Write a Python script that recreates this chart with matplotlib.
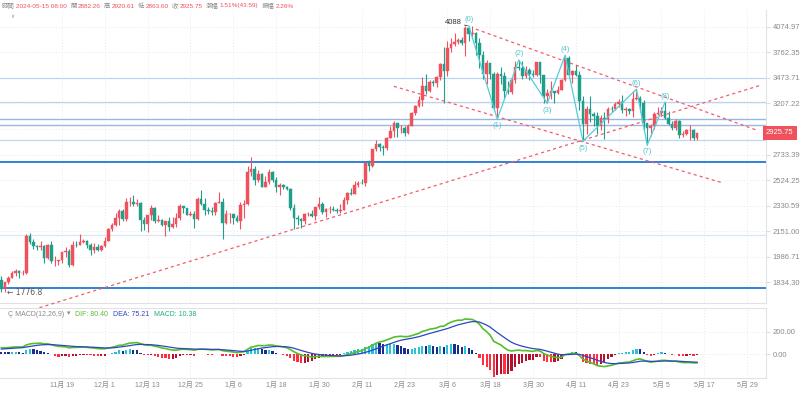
import numpy as np
import pandas as pd
import matplotlib
matplotlib.use("Agg")
import matplotlib.pyplot as plt
import matplotlib.dates as mdates
from matplotlib.ticker import NullLocator
from matplotlib.transforms import blended_transform_factory

plt.rcParams['font.family'] = ['Liberation Sans', 'Noto Sans CJK TC', 'DejaVu Sans']

# daily candles 2023-11-02 .. 2024-05-15 (last bar still running)
first_day = "2023-11-02"
first_open = 1846.0
last_open = 2882.26
closes = [
    # Nov
    1796, 1832, 1859, 1888, 1899, 1886, 1888, 2120, 2077, 2053, 2045, 2054, 1980, 2058, 1960,
    1961, 1963, 2013, 2022, 1932, 2063, 2062, 2081, 2084, 2063, 2027, 2049, 2030, 2052,
    # Dec
    2088, 2166, 2193, 2243, 2293, 2232, 2358, 2359, 2344, 2352, 2224, 2203, 2260, 2316, 2220, 2228,
    2196, 2218, 2177, 2201, 2239, 2326, 2311, 2266, 2273, 2231, 2379, 2345, 2300, 2293, 2281,
    # Jan
    2352, 2355, 2210, 2268, 2269, 2241, 2222, 2331, 2345, 2585, 2616, 2524, 2576, 2472, 2511, 2587,
    2528, 2467, 2489, 2470, 2456, 2312, 2242, 2236, 2218, 2267, 2267, 2257, 2317, 2343, 2283,
    # Feb
    2304, 2309, 2297, 2290, 2300, 2373, 2424, 2420, 2487, 2503, 2500, 2660, 2640, 2778, 2824, 2803,
    2786, 2882, 2944, 3015, 2967, 2971, 2922, 2993, 3112, 3179, 3243, 3385, 3340,
    # Mar
    3433, 3421, 3487, 3629, 3553, 3817, 3868, 3885, 3912, 3878, 4066, 3983, 4004, 3881, 3737, 3521,
    3644, 3518, 3159, 3516, 3492, 3336, 3329, 3454, 3591, 3587, 3500, 3561, 3512, 3508, 3647,
    # Apr
    3505, 3281, 3312, 3331, 3319, 3350, 3455, 3700, 3505, 3545, 3504, 3236, 3006, 3157, 3101, 3084,
    2985, 3066, 3056, 3155, 3148, 3201, 3220, 3139, 3156, 3131, 3255, 3264, 3216, 3014,
    # May
    2969, 2988, 3103, 3117, 3137, 3064, 3005, 2974, 3036, 2910, 2912, 2949, 2951, 2881, 2925.75,
]
highs = [
    1867, 1835, 1867, 1900, 1910, 1905, 1903, 2135, 2137, 2096, 2063, 2083, 2060, 2069, 2088,
    1988, 1968, 2017, 2050, 2035, 2087, 2089, 2133, 2096, 2092, 2071, 2073, 2068, 2058,
    2111, 2169, 2210, 2275, 2307, 2305, 2385, 2392, 2405, 2380, 2355, 2245, 2265, 2332, 2320, 2260,
    2235, 2220, 2250, 2250, 2275, 2340, 2330, 2315, 2292, 2290, 2390, 2445, 2385, 2320, 2320,
    2355, 2430, 2385, 2295, 2280, 2272, 2260, 2360, 2370, 2640, 2717, 2635, 2605, 2580, 2555, 2610,
    2595, 2550, 2500, 2495, 2477, 2465, 2345, 2265, 2240, 2275, 2285, 2300, 2320, 2390, 2355,
    2310, 2325, 2330, 2310, 2345, 2390, 2435, 2460, 2520, 2515, 2535, 2665, 2685, 2785, 2865, 2830,
    2815, 2890, 2985, 3032, 3015, 3000, 2985, 3010, 3120, 3190, 3285, 3485, 3520,
    3450, 3450, 3495, 3640, 3825, 3900, 3940, 3995, 3935, 3950, 4085, 4088, 4085, 4010, 3940, 3780,
    3680, 3645, 3540, 3535, 3590, 3540, 3440, 3470, 3665, 3675, 3660, 3610, 3580, 3565, 3655,
    3650, 3505, 3360, 3440, 3340, 3390, 3460, 3730, 3725, 3560, 3620, 3555, 3285, 3180, 3280, 3125,
    3125, 3095, 3125, 3170, 3180, 3220, 3250, 3290, 3170, 3165, 3330, 3355, 3280, 3240,
    3020, 3010, 3125, 3170, 3170, 3220, 3130, 3035, 3060, 3050, 2940, 2960, 2995, 2960, 2920.61,
]
lows = [
    1780, 1776.8, 1823, 1855, 1872, 1855, 1873, 1880, 2065, 2037, 2027, 2028, 1950, 1972, 1945,
    1930, 1935, 1950, 1985, 1922, 1928, 2050, 2058, 2075, 2042, 1995, 2010, 2024, 2022,
    2046, 2083, 2152, 2186, 2195, 2220, 2222, 2330, 2330, 2330, 2155, 2160, 2145, 2225, 2208, 2212,
    2185, 2120, 2150, 2170, 2180, 2230, 2280, 2260, 2255, 2175, 2225, 2335, 2265, 2270, 2265,
    2265, 2350, 2100, 2200, 2210, 2200, 2215, 2165, 2240, 2335, 2555, 2485, 2510, 2470, 2470, 2495,
    2505, 2430, 2410, 2455, 2450, 2300, 2165, 2195, 2170, 2200, 2255, 2245, 2230, 2305, 2270,
    2250, 2280, 2290, 2275, 2275, 2295, 2345, 2405, 2415, 2470, 2490, 2480, 2595, 2630, 2760, 2760,
    2730, 2775, 2875, 2890, 2890, 2920, 2900, 2915, 2985, 3090, 3170, 3180, 3300,
    3320, 3385, 3375, 3450, 3210, 3500, 3765, 3840, 3860, 3850, 3720, 3900, 3940, 3730, 3580, 3460,
    3410, 3460, 3140, 3056, 3410, 3250, 3300, 3300, 3420, 3560, 3460, 3470, 3450, 3485, 3500,
    3420, 3215, 3210, 3255, 3210, 3300, 3345, 3440, 3480, 3420, 3490, 3140, 2850, 2915, 3030, 2990,
    2915, 2950, 2870, 3020, 3125, 3140, 3175, 3110, 3080, 3100, 3075, 3245, 3120, 2950,
    2817, 2895, 2960, 3090, 3080, 3055, 3000, 2950, 2955, 2880, 2885, 2905, 2865, 2860, 2863.60,
]

# closes before the window, only to warm up the MACD
warmup_closes = [
    1630, 1637, 1633, 1628, 1632, 1635, 1645, 1635, 1635, 1616, 1552, 1593, 1607, 1627, 1643,
    1636, 1622, 1637, 1645, 1621, 1584, 1593, 1593, 1581, 1588, 1595, 1597, 1654, 1668, 1671,
    1733, 1663, 1656, 1647, 1611, 1645, 1633, 1633, 1579, 1567, 1565, 1539, 1553, 1555, 1558,
    1600, 1565, 1565, 1567, 1604, 1628, 1664, 1790, 1785, 1787, 1803, 1777, 1780, 1794, 1810,
    1815, 1846,
]

wave_dates = ["2024-03-12", "2024-03-20", "2024-03-26", "2024-04-03", "2024-04-08",
              "2024-04-13", "2024-04-28", "2024-05-01", "2024-05-06"]
wave_prices = [4088, 3056, 3675, 3210, 3730, 2850, 3355, 2817, 3220]
wave_names = ["(0)", "(1)", "(2)", "(3)", "(4)", "(5)", "(6)", "(7)", "(8)"]

levels = [3470, 3219, 3052, 2995, 2858, 2668, 2125, 1800]
level_colors = ["#b9d5f2", "#b9d5f2", "#93b8e2", "#a3b5da", "#bdd8f4", "#2176d9", "#d5e6f8", "#2176d9"]
level_widths = [0.9, 0.9, 1.0, 1.0, 0.9, 1.3, 0.9, 1.3]

trend_dates = ["2023-11-11", "2024-06-02"]
trend_prices = [1683, 3398]
chan_top_dates = ["2024-03-14", "2024-06-01"]
chan_top_prices = [4047, 2947]
chan_bot_dates = ["2024-02-20", "2024-05-22"]
chan_bot_prices = [3384, 2503]

price_ticks = [4074.97, 3762.35, 3473.71, 3207.22, 2961.30, 2733.39, 2524.25, 2330.59,
               2151.00, 1986.71, 1834.30]
macd_ticks = [0, 200]

header = [("時間", "2024-05-15 08:00"), ("開", "2882.26"), ("高", "2920.61"), ("低", "2863.60"),
          ("收", "2925.75"), ("漲幅", "1.51%(43.59)"), ("振幅", "2.26%")]

RED = "#f0515c"
GREEN = "#1f9e89"
GRID = "#e9e9e9"
LABEL = "#8a8a8a"

# ---------------------------------------------------------------
dates = pd.date_range(first_day, periods=len(closes), freq="D")
x = mdates.date2num(dates)
c = np.array(closes, dtype=float)
o = np.array([first_open] + closes[:-1], dtype=float)
o[-1] = last_open
h = np.array(highs, dtype=float)
l = np.array(lows, dtype=float)

s = pd.Series(warmup_closes + closes, dtype=float)
dif = s.ewm(span=12, adjust=False).mean() - s.ewm(span=26, adjust=False).mean()
dea = dif.ewm(span=9, adjust=False).mean()
hist = 2 * (dif - dea)
dif = dif.values[-len(closes):]
dea = dea.values[-len(closes):]
hist_all = hist.values
hist = hist_all[-len(closes):]
prev = hist_all[-len(closes) - 1:-1]

W, H = 802, 394
def box(x0, y0, x1, y1):
    return [x0 / W, 1 - y1 / H, (x1 - x0) / W, (y1 - y0) / H]

fig = plt.figure(figsize=(W / 100, H / 100), dpi=100)
ax = fig.add_axes(box(0, 10, 766, 303))
axm = fig.add_axes(box(0, 308, 766, 378), sharex=ax)

# candles
up = c >= o
cols = np.where(up, RED, GREEN)
ax.vlines(x, l, h, colors=cols, lw=0.8, zorder=3)
ax.bar(x, np.maximum(np.abs(c - o), 0.5), bottom=np.minimum(o, c), width=0.72,
       color=cols, edgecolor=cols, linewidth=0.3, zorder=4)

ax.set_yscale("log")
ax.set_ylim(1718, 4297)
ax.yaxis.set_minor_locator(NullLocator())
ax.yaxis.tick_right()
ax.set_yticks(price_ticks)
# the 2961 label sits under the price tag
ax.set_yticklabels(["" if v == 2961.30 else f"{v:.2f}" for v in price_ticks])

x0 = mdates.date2num(pd.Timestamp("2023-11-19"))
ax.set_xlim(x0 - 17.38, x0 + 197.3)
xt = [x0 + 12 * k for k in range(17)]
xt_lab = [f"{d.month}月 {d.day}" for d in mdates.num2date(xt)]

for lv, lc, lw in zip(levels, level_colors, level_widths):
    ax.axhline(lv, color=lc, lw=lw, zorder=2)

dash = dict(color="#f25c6a", lw=0.9, linestyle=(0, (2.5, 2.5)), zorder=5)
ax.plot(mdates.date2num(pd.to_datetime(trend_dates)), trend_prices, clip_on=False, **dash)
ax.plot(mdates.date2num(pd.to_datetime(chan_top_dates)), chan_top_prices, **dash)
ax.plot(mdates.date2num(pd.to_datetime(chan_bot_dates)), chan_bot_prices, **dash)

wx = mdates.date2num(pd.to_datetime(wave_dates))
ax.plot(wx, wave_prices, color="#55ccd8", lw=0.9, zorder=6)
for i, (px, py, nm) in enumerate(zip(wx, wave_prices, wave_names)):
    off = 6 if i % 2 == 0 else -7
    ax.annotate(nm, (px, py), xytext=(0, off), textcoords="offset pixels", ha="center",
                va="center", fontsize=5.5, color="#58c4cc", zorder=7)

ax.annotate("4088", (wx[0], wave_prices[0]), xytext=(-7, 3), textcoords="offset pixels",
            ha="right", va="center", fontsize=5.5, color="#333333",
            arrowprops=dict(arrowstyle="-", color="#333333", lw=0.6, shrinkA=0, shrinkB=1))
ax.annotate("← 1776.8", (x[1], l[1]), xytext=(2, 0), textcoords="offset pixels",
            ha="left", va="center", fontsize=5.5, color="#555555",
            family=["DejaVu Sans"])

# price tag
tr = blended_transform_factory(ax.transAxes, ax.transData)
ax.text(1.0, c[-1], f"{c[-1]:.2f}", transform=tr, ha="left", va="center", color="white",
        fontsize=5.5, zorder=20, clip_on=False,
        bbox=dict(boxstyle="square,pad=0.45", fc=RED, ec="none"))

# MACD panel
hcol = []
for v, p in zip(hist, prev):
    if v >= 0:
        hcol.append("#27c3d6" if v >= p else "#1b2d8f")
    else:
        hcol.append("#ff2e40" if v <= p else "#b3122e")
axm.bar(x, hist, width=0.62, color=hcol, zorder=3)
axm.plot(x, dif, color="#55bf2a", lw=1.2, zorder=4)
axm.plot(x, dea, color="#2c46c4", lw=0.9, zorder=4)
axm.set_ylim(-218, 418)
axm.yaxis.tick_right()
axm.set_yticks(macd_ticks)
axm.set_yticklabels([f"{v:.2f}" for v in macd_ticks])
axm.set_xticks(xt)
axm.set_xticklabels(xt_lab)

for a in (ax, axm):
    a.set_facecolor("white")
    a.grid(True, color=GRID, linestyle=(0, (1, 2)), lw=0.7, zorder=0)
    for sp in ("left", "top"):
        a.spines[sp].set_visible(False)
    for sp in ("right", "bottom"):
        a.spines[sp].set_color("#e2e2e2")
    a.tick_params(axis="y", labelsize=5.5, labelcolor=LABEL, color="#dddddd", length=3, pad=2)
    a.tick_params(axis="x", length=0, labelsize=5, labelcolor=LABEL, pad=3)
ax.tick_params(labelbottom=False)
axm.spines["top"].set_visible(True)
axm.spines["top"].set_color("#e2e2e2")

# texts laid out one after another, measured with the renderer
renderer = fig.canvas.get_renderer()
def chain(items, px, py, size, families=None):
    for s_, col, gap in items:
        kw = {} if families is None else {"family": families}
        t = fig.text(px / W, 1 - py / H, s_, color=col, fontsize=size, va="center",
                     ha="left", **kw)
        px += t.get_window_extent(renderer=renderer).width + gap

hdr_items = []
for lab, val in header:
    hdr_items.append((lab, LABEL, 1))
    hdr_items.append((val, RED, 3.5))
chain(hdr_items, 2, 6, 4.6)
fig.text(12 / W, 1 - 16 / H, "∨", color="#999999", fontsize=4, ha="center", va="center",
         family=["DejaVu Sans"])

leg_items = [("Ç MACD(12,26,9)", LABEL, 3), ("▾", LABEL, 4), ("DIF: 80.40", "#55bf2a", 5),
             ("DEA: 75.21", "#2c46c4", 5), ("MACD: 10.38", "#1fae7a", 0)]
chain(leg_items, 8, 314, 5, ["Liberation Sans", "DejaVu Sans"])

fig.savefig("out.png", dpi=100)
